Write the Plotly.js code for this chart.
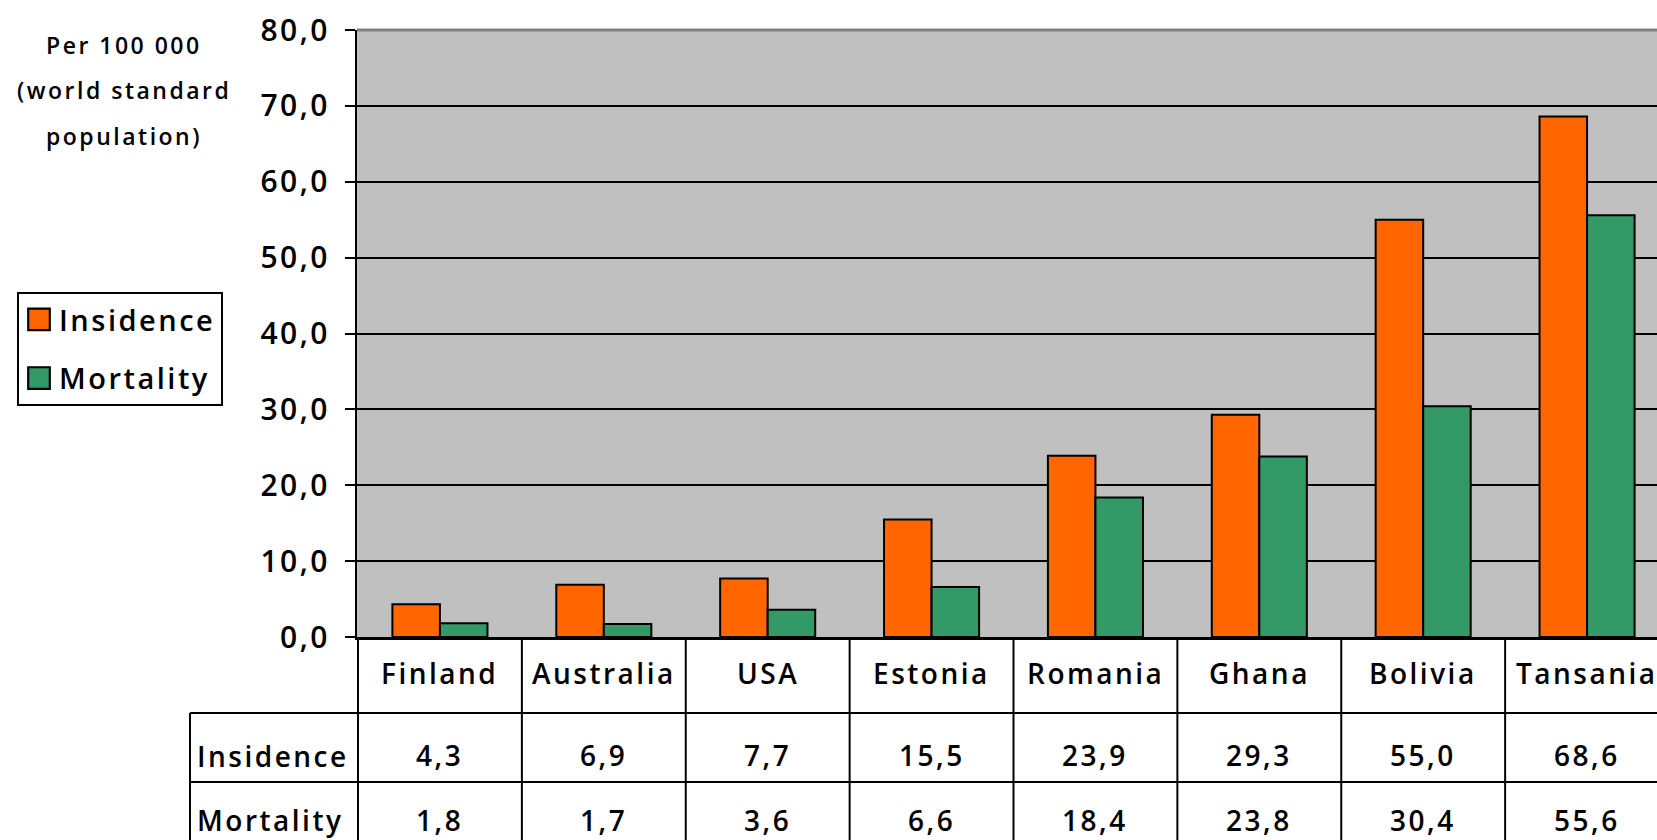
<!DOCTYPE html>
<html>
<head>
<meta charset="utf-8">
<script src="https://cdn.plot.ly/plotly-3.0.1.min.js"></script>
<style>
html, body { margin:0; padding:0; overflow:hidden; background:#fff; }
#chart { width:1690px; height:880px; }
svg text { letter-spacing: 2.5px; }
</style>
</head>
<body>
<div id="chart"></div>
<script>
// ---- data ----
const countries = ['Finland','Australia','USA','Estonia','Romania','Ghana','Bolivia','Tansania'];
const insidence = [4.3, 6.9, 7.7, 15.5, 23.9, 29.3, 55.0, 68.6];
const mortality = [1.8, 1.7, 3.6, 6.6, 18.4, 23.8, 30.4, 55.6];
const seriesNames = ['Insidence', 'Mortality'];
const seriesColors = ['#FF6600', '#339966'];
const titleLines = ['Per 100 000', '(world standard', 'population)'];
const yTicks = [0, 10, 20, 30, 40, 50, 60, 70, 80];

const FONT = 'Open Sans, Noto Sans, sans-serif';
const WT = 600;
const fmt = v => v.toFixed(1).replace('.', ',');

// layout geometry (pixels)
const W = 1690, H = 880;
const mL = 357, mT = 30, mB = 243, mR = 20;
const plotH = H - mT - mB;          // 607
const plotW = W - mL - mR;
const py = pix => (H - mB - pix) / plotH;   // page pixel y -> paper y
const px = pix => (pix - mL) / plotW;        // page pixel x -> paper x

const traces = [insidence, mortality].map((vals, k) => ({
  type: 'bar',
  name: seriesNames[k],
  x: countries,
  y: vals,
  legendgroup: 'g' + k,
  marker: { color: seriesColors[k], line: { color: '#000', width: 2 } },
  hoverinfo: 'x+y+name'
}));

const rowTop1 = py(713), rowTop2 = py(782), tableBottom = py(855);
const tableLeft = px(190);

const shapes = [];
shapes.push({ type:'line', xref:'paper', yref:'paper', x0:0, x1:1, y0:1, y1:1,
  line:{ color:'#808080', width:3 } });
[rowTop1, rowTop2, tableBottom].forEach(y => shapes.push({
  type:'line', xref:'paper', yref:'paper', x0:tableLeft, x1:1.05, y0:y, y1:y,
  line:{ color:'#000', width:2 } }));
shapes.push({ type:'line', xref:'paper', yref:'paper', x0:tableLeft, x1:tableLeft,
  y0:rowTop1, y1:tableBottom, line:{ color:'#000', width:2 } });
for (let i = 0; i <= countries.length; i++) {
  shapes.push({ type:'line', xref:'x', yref:'paper', x0:i-0.5, x1:i-0.5,
    y0:0, y1:tableBottom, line:{ color:'#000', width:2 } });
}

const tf = size => ({ family:FONT, size:size, color:'#000', weight:WT });
const annotations = [];
titleLines.forEach((t, i) => annotations.push({
  text: t, xref:'paper', yref:'paper', x: px(124), y: py([45, 90, 136][i]),
  xanchor:'center', yanchor:'middle', showarrow:false, font: tf(23)
}));
countries.forEach((c, i) => {
  annotations.push({ text:c, xref:'x', yref:'paper', x:i, y:py(673),
    xanchor:'center', yanchor:'middle', showarrow:false, font: tf(28) });
  annotations.push({ text:fmt(insidence[i]), xref:'x', yref:'paper', x:i, y:py(755),
    xanchor:'center', yanchor:'middle', showarrow:false, font: tf(28) });
  annotations.push({ text:fmt(mortality[i]), xref:'x', yref:'paper', x:i, y:py(820),
    xanchor:'center', yanchor:'middle', showarrow:false, font: tf(28) });
});
seriesNames.forEach((n, k) => annotations.push({
  text:n, xref:'paper', yref:'paper', x:px(195), y:py([756, 820][k]),
  xanchor:'left', yanchor:'middle', showarrow:false, font: tf(28) }));

const layout = {
  width: W, height: H,
  margin: { l:mL, r:mR, t:mT, b:mB, pad:0 },
  paper_bgcolor:'#ffffff',
  plot_bgcolor:'#C0C0C0',
  separators: ', ',
  barmode:'group',
  bargap:0.42,
  bargroupgap:0,
  font:{ family:FONT, color:'#000' },
  showlegend:true,
  legend:{
    x: px(17), y: py(292), xanchor:'left', yanchor:'top',
    bgcolor:'#fff', bordercolor:'#000', borderwidth:2,
    font: tf(29),
    traceorder:'grouped', tracegroupgap:18
  },
  xaxis:{
    type:'category', showticklabels:false, ticks:'',
    showline:true, linecolor:'#000', linewidth:3,
    showgrid:false, zeroline:false, fixedrange:true
  },
  yaxis:{
    range:[0, 80], tickvals: yTicks, tickformat:'.1f',
    ticks:'outside', ticklen:10, tickwidth:2, tickcolor:'#000',
    ticklabelstandoff: 9,
    showline:true, linecolor:'#000', linewidth:2,
    showgrid:true, gridcolor:'#000', gridwidth:2,
    zeroline:false, fixedrange:true,
    tickfont: tf(30)
  },
  shapes, annotations
};

Plotly.newPlot('chart', traces, layout, { displayModeBar:false, staticPlot:true }).then(gd => {
  gd.querySelectorAll('.legendpoints path').forEach(p => {
    const t = p.getAttribute('transform') || '';
    p.setAttribute('transform', t + ' scale(1.8)');
    p.style.strokeWidth = '1.2px';
  });
});
</script>
</body>
</html>
